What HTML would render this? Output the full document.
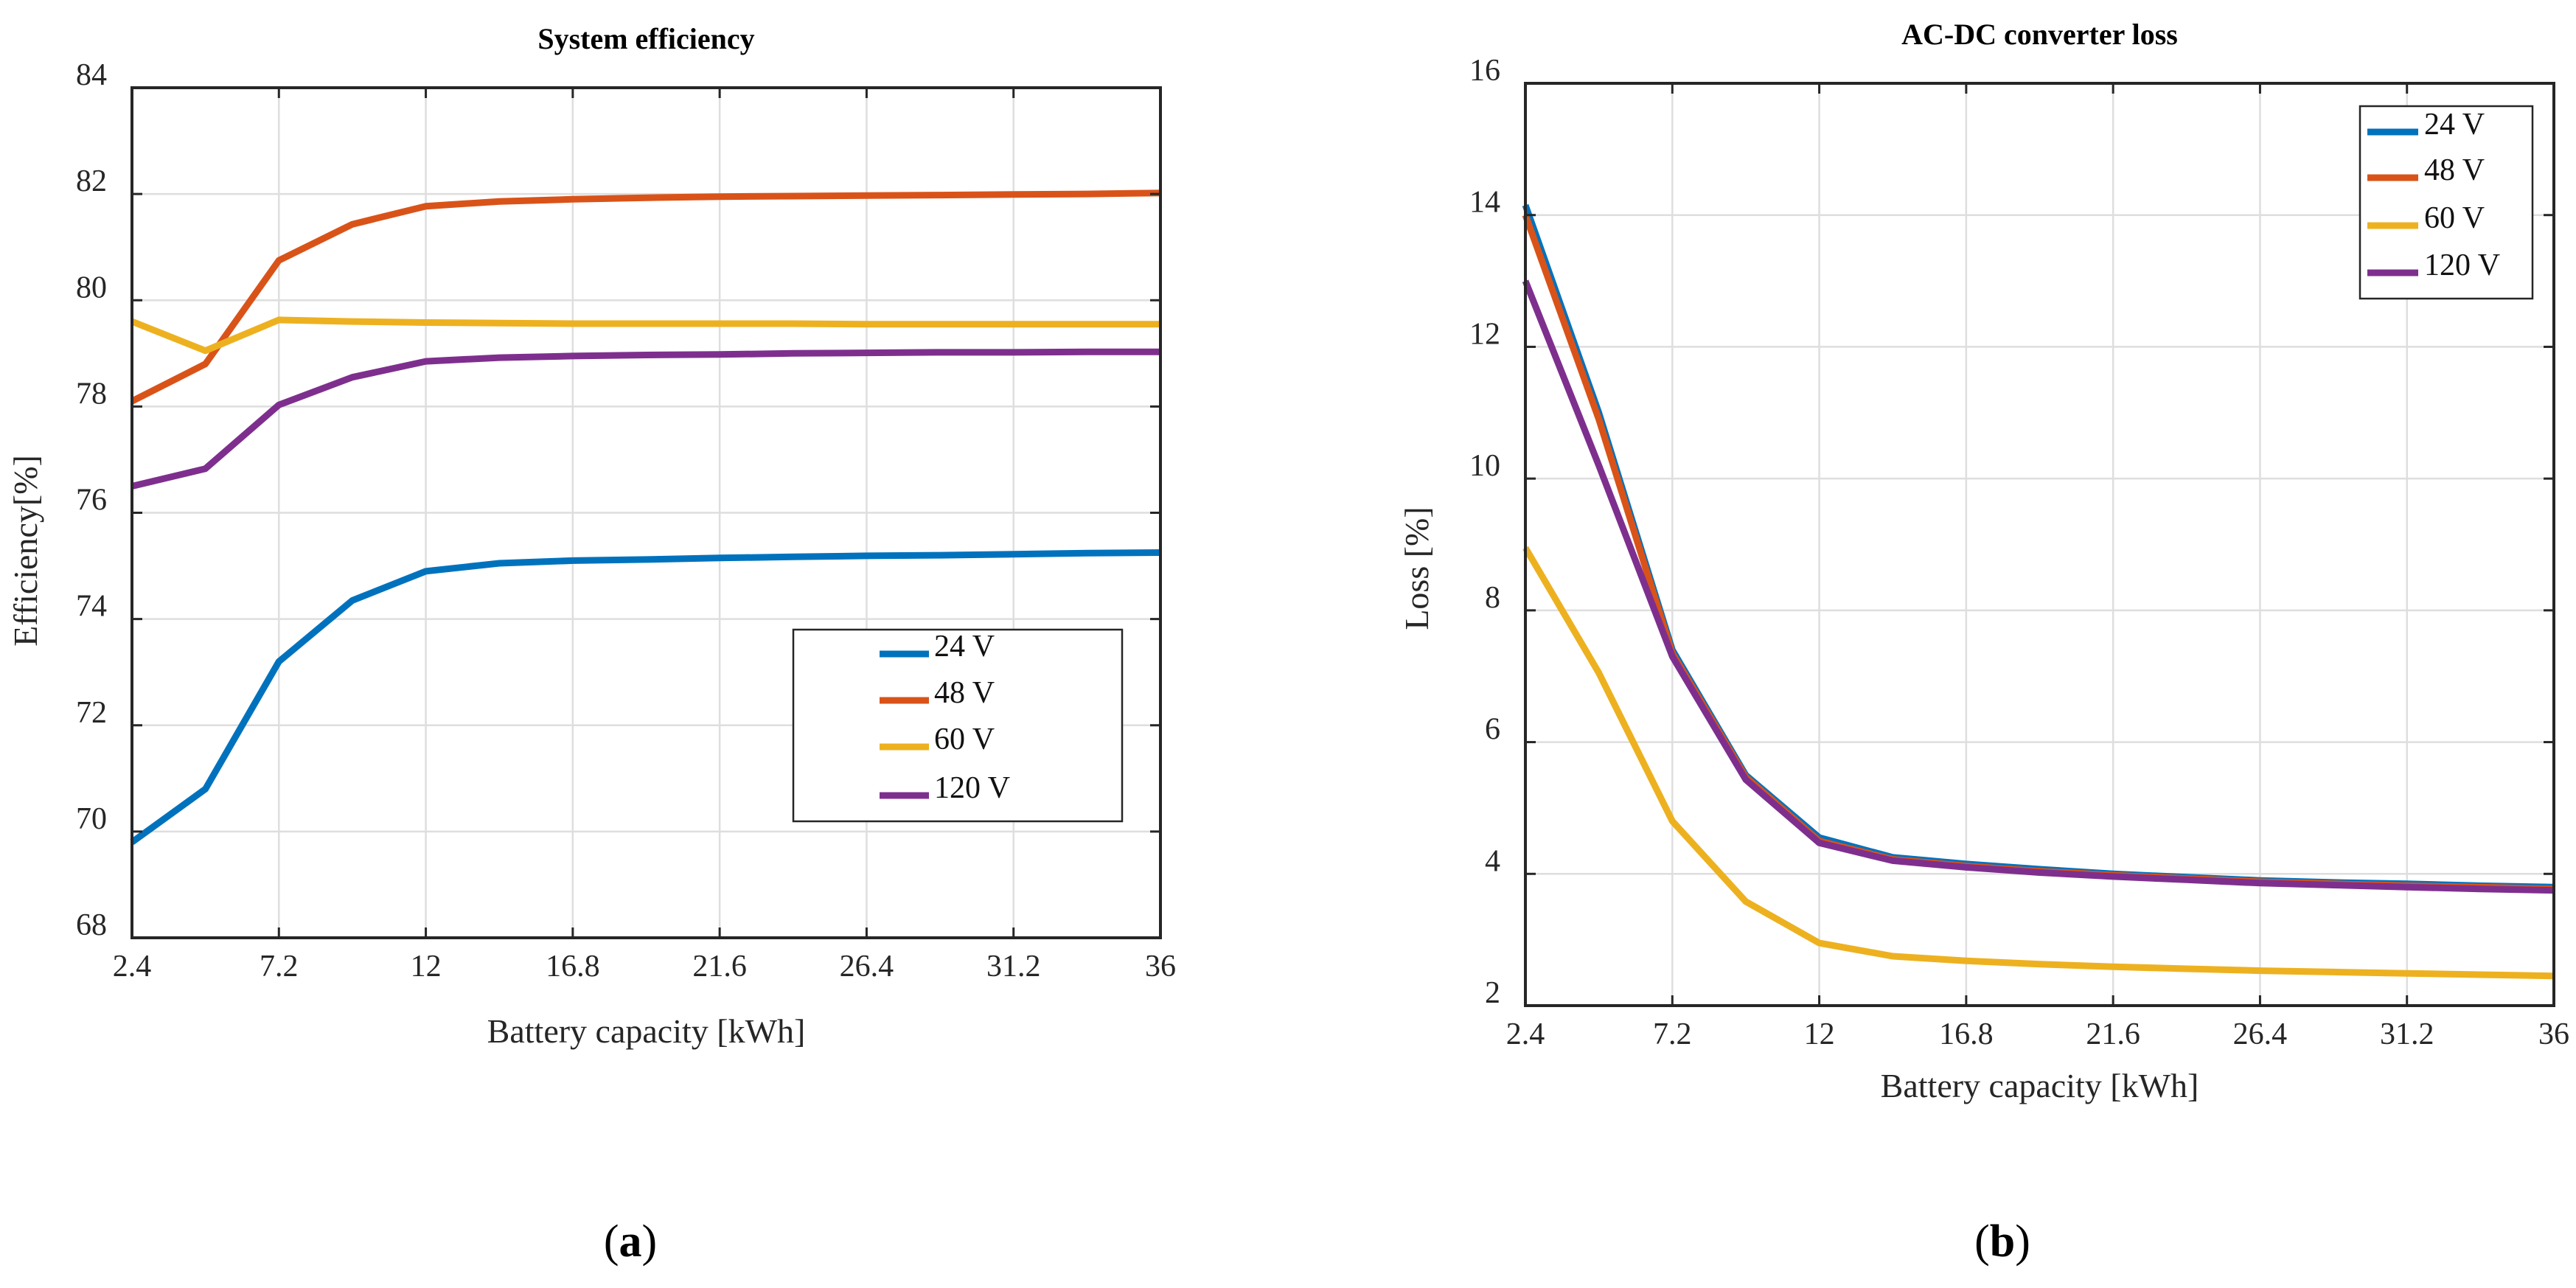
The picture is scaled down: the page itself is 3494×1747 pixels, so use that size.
<!DOCTYPE html>
<html><head><meta charset="utf-8"><style>
html,body{margin:0;padding:0;background:#fff;}
svg{display:block;font-family:"Liberation Serif",serif;}
</style></head><body>
<svg id="chart" width="3494" height="1747" viewBox="0 0 3494 1747" xmlns="http://www.w3.org/2000/svg">
<g id="pa"></g>
<g id="pb"></g>
<text x="855" y="1704" font-size="62" text-anchor="middle">(<tspan font-weight="bold">a</tspan>)</text>
<text x="2716" y="1704" font-size="62" text-anchor="middle">(<tspan font-weight="bold">b</tspan>)</text>
</svg>
<script>
const xCats = [2.4,4.8,7.2,9.6,12,14.4,16.8,19.2,21.6,24,26.4,28.8,31.2,33.6,36];
const xTicks = [2.4,7.2,12,16.8,21.6,26.4,31.2,36];
const xTickLabels = ["2.4","7.2","12","16.8","21.6","26.4","31.2","36"];
const seriesNames = ["24 V","48 V","60 V","120 V"];
const seriesColors = ["#0072bd","#d95319","#edb120","#7e2f8e"];
const effTicks = [68,70,72,74,76,78,80,82,84];
const eff24 = [69.8,70.8,73.2,74.35,74.9,75.05,75.1,75.12,75.15,75.17,75.19,75.2,75.22,75.24,75.25];
const eff48 = [78.1,78.8,80.75,81.43,81.77,81.86,81.9,81.93,81.95,81.96,81.97,81.98,81.99,82.0,82.02];
const eff60 = [79.6,79.05,79.63,79.6,79.58,79.57,79.56,79.56,79.56,79.56,79.55,79.55,79.55,79.55,79.55];
const eff120 = [76.5,76.83,78.03,78.55,78.85,78.92,78.95,78.97,78.98,79.0,79.01,79.02,79.02,79.03,79.03];
const lossTicks = [2,4,6,8,10,12,14,16];
const loss24 = [14.15,11.0,7.4,5.5,4.55,4.25,4.15,4.07,4.0,3.95,3.9,3.87,3.85,3.82,3.8];
const loss48 = [14.0,10.9,7.35,5.47,4.5,4.22,4.12,4.04,3.98,3.93,3.88,3.85,3.82,3.8,3.77];
const loss60 = [8.95,7.05,4.8,3.58,2.95,2.75,2.68,2.63,2.59,2.56,2.53,2.51,2.49,2.47,2.45];
const loss120 = [13.0,10.2,7.3,5.43,4.47,4.2,4.1,4.02,3.96,3.91,3.86,3.83,3.8,3.77,3.75];

const NS="http://www.w3.org/2000/svg";
function mk(p,tag,attrs,txt){const e=document.createElementNS(NS,tag);for(const k in attrs)e.setAttribute(k,attrs[k]);if(txt!==undefined)e.textContent=txt;p.appendChild(e);return e;}

function drawPanel(g,o){
  const xs=v=>o.x1+(v-2.4)/(36-2.4)*(o.x2-o.x1);
  const ys=v=>o.y2-(v-o.ymin)/(o.ymax-o.ymin)*(o.y2-o.y1);
  const t=mk(g,'text',{x:(o.x1+o.x2)/2,y:o.titleY,'font-size':40,'font-weight':'bold','text-anchor':'middle'},o.title);
  
  
  for(const v of xTicks){
    const l=mk(g,'line',{x1:xs(v),x2:xs(v),y1:o.y1,y2:o.y2,stroke:'#dedede','stroke-width':2.5});
    
    
  }
  for(const v of o.yt){
    const l=mk(g,'line',{x1:o.x1,x2:o.x2,y1:ys(v),y2:ys(v),stroke:'#dedede','stroke-width':2.5});
    
    
  }
  o.series.forEach((s,i)=>{
    const pts=xCats.map((c,j)=>xs(c).toFixed(1)+','+ys(s[j]).toFixed(1)).join(' ');
    const pl=mk(g,'polyline',{points:pts,fill:'none',stroke:seriesColors[i],'stroke-width':9,'stroke-linejoin':'round'});
    
    
  });
  const ax=mk(g,'rect',{x:o.x1,y:o.y1,width:o.x2-o.x1,height:o.y2-o.y1,fill:'none',stroke:'#262626','stroke-width':4});
  
  
  xTicks.forEach((v,i)=>{
    mk(g,'line',{x1:xs(v),x2:xs(v),y1:o.y2,y2:o.y2-14,stroke:'#262626','stroke-width':3});
    mk(g,'line',{x1:xs(v),x2:xs(v),y1:o.y1,y2:o.y1+14,stroke:'#262626','stroke-width':3});
    const tl=mk(g,'text',{x:xs(v),y:o.y2+52,'font-size':42,'text-anchor':'middle',fill:'#262626'},xTickLabels[i]);
    
    
  });
  o.yt.forEach(v=>{
    mk(g,'line',{x1:o.x1,x2:o.x1+14,y1:ys(v),y2:ys(v),stroke:'#262626','stroke-width':3});
    mk(g,'line',{x1:o.x2,x2:o.x2-14,y1:ys(v),y2:ys(v),stroke:'#262626','stroke-width':3});
    const tl=mk(g,'text',{x:o.x1-34,y:ys(v)-4,'font-size':42,'text-anchor':'end',fill:'#262626'},String(v));
    
    
  });
  const xl=mk(g,'text',{x:(o.x1+o.x2)/2,y:o.xlabY,'font-size':46,'text-anchor':'middle',fill:'#262626'},'Battery capacity [kWh]');
  
  
  const yl=mk(g,'text',{x:0,y:0,'font-size':46,'text-anchor':'middle',fill:'#262626',transform:`translate(${o.ylabX},${o.ylabY}) rotate(-90)`},o.ylab);
  
  
  const L=o.leg;
  const lg=mk(g,'g',{});
  
  
  mk(lg,'rect',{x:L.x1,y:L.y1,width:L.x2-L.x1,height:L.y2-L.y1,fill:'#fff',stroke:'#262626','stroke-width':2.5});
  seriesNames.forEach((n,i)=>{
    const y=L.rows[i];
    const e=mk(lg,'g',{});
    
    
    mk(e,'line',{x1:L.lx1,x2:L.lx2,y1:y,y2:y,stroke:seriesColors[i],'stroke-width':9});
    mk(e,'text',{x:L.tx,y:y+3,'font-size':42,fill:'#111'},n);
  });
}
drawPanel(document.getElementById('pa'),{x1:179,x2:1574,y1:119,y2:1272,ymin:68,ymax:84,yt:effTicks,
  series:[eff24,eff48,eff60,eff120],title:'System efficiency',titleY:66,xlabY:1414,ylab:'Efficiency[%]',ylabX:50,ylabY:747,
  leg:{x1:1076,x2:1522,y1:854,y2:1114,lx1:1193,lx2:1260,tx:1267,rows:[887,950,1013,1079]}});
drawPanel(document.getElementById('pb'),{x1:2069,x2:3464,y1:113,y2:1364,ymin:2,ymax:16,yt:lossTicks,
  series:[loss24,loss48,loss60,loss120],title:'AC-DC converter loss',titleY:60,xlabY:1488,ylab:'Loss [%]',ylabX:1937,ylabY:771,
  leg:{x1:3201,x2:3435,y1:144,y2:405,lx1:3211,lx2:3280,tx:3288,rows:[179,241,306,370]}});
</script>
</body></html>
